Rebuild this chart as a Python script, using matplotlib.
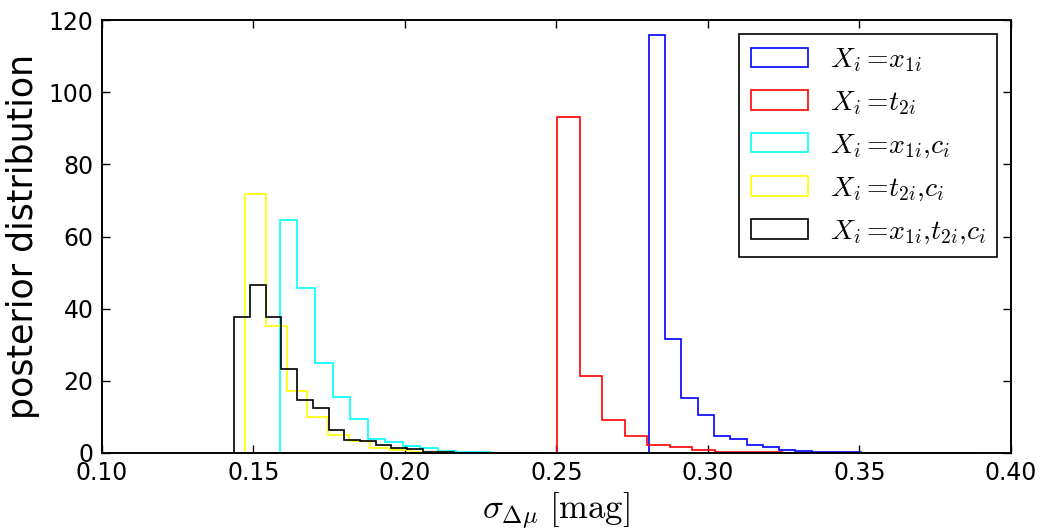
#!/usr/bin/env python3
import numpy as np
import matplotlib
matplotlib.use("Agg")
import matplotlib.pyplot as plt

# histogram data: first bin edge, bin width, bin heights
blue_start, blue_width = 0.2805, 0.00538
blue_h = [115.8, 31.5, 15.2, 10.6, 4.7, 3.8, 2.2, 1.7, 0.8, 0.55,
          0.35, 0.3, 0.15, 0.1, 0.05, 0.1, 0.05, 0.0, 0.05, 0.05]

red_start, red_width = 0.2503, 0.00743
red_h = [93.2, 21.2, 9.2, 4.8, 2.2, 1.6, 0.7, 0.3, 0.3, 0.15,
         0.1, 0.05, 0.05, 0.03, 0.02]

cyan_start, cyan_width = 0.1587, 0.0058
cyan_h = [64.6, 45.7, 25.0, 15.4, 9.4, 4.0, 3.1, 1.8, 1.3, 0.5,
          0.3, 0.2, 0.1, 0.1, 0.05]

yellow_start, yellow_width = 0.1472, 0.00686
yellow_h = [71.8, 35.3, 17.3, 9.9, 5.0, 3.2, 1.3, 0.7, 0.3, 0.2,
            0.1, 0.05, 0.05]

black_start, black_width = 0.1437, 0.00518
black_h = [37.8, 46.6, 37.8, 23.2, 14.8, 12.6, 6.4, 3.6, 3.2, 2.2,
           1.3, 1.0, 0.3, 0.2, 0.1, 0.1, 0.05, 0.05, 0.03, 0.02]

series = [
    (blue_start, blue_width, blue_h, "blue", r"$X_i =\!x_{1i}$"),
    (red_start, red_width, red_h, "red", r"$X_i =\!t_{2i}$"),
    (cyan_start, cyan_width, cyan_h, "cyan", r"$X_i =\!x_{1i}{,}c_i$"),
    (yellow_start, yellow_width, yellow_h, "yellow", r"$X_i =\!t_{2i}{,}c_i$"),
    (black_start, black_width, black_h, "black", r"$X_i =\!x_{1i}{,}t_{2i}{,}c_i$"),
]

xticks = [0.10, 0.15, 0.20, 0.25, 0.30, 0.35, 0.40]
yticks = [0, 20, 40, 60, 80, 100, 120]

plt.rcParams["mathtext.fontset"] = "cm"
plt.rcParams["font.family"] = "DejaVu Sans"

fig = plt.figure(figsize=(10.41, 5.31), dpi=100)
ax = fig.add_axes([0.098, 0.147, 0.873, 0.815])

for start, width, h, col, lab in series:
    h = np.array(h)
    edges = start + width * np.arange(len(h) + 1)
    centers = 0.5 * (edges[:-1] + edges[1:])
    ax.hist(centers, bins=edges, weights=h, histtype="step",
            color=col, linewidth=1.2, label=lab)

ax.set_xlim(0.10, 0.40)
ax.set_ylim(0, 120)
ax.set_xticks(xticks)
ax.set_xticklabels(["%.2f" % t for t in xticks])
ax.set_yticks(yticks)
ax.tick_params(direction="in", top=True, right=True, length=6, width=1,
               labelsize=17, pad=6)
for sp in ax.spines.values():
    sp.set_linewidth(1.4)

ax.set_ylabel("posterior distribution", fontsize=25, labelpad=6)
ax.set_xlabel(r"$\sigma_{\Delta\mu}\ [\mathrm{mag}]$", fontsize=25, labelpad=4)

leg = ax.legend(loc="upper right", fontsize=20, fancybox=False, framealpha=1,
                edgecolor="black", handlelength=2.05, labelspacing=0.5,
                borderaxespad=0.5)
leg.get_frame().set_linewidth(1.2)

fig.savefig("out.png", dpi=100)
